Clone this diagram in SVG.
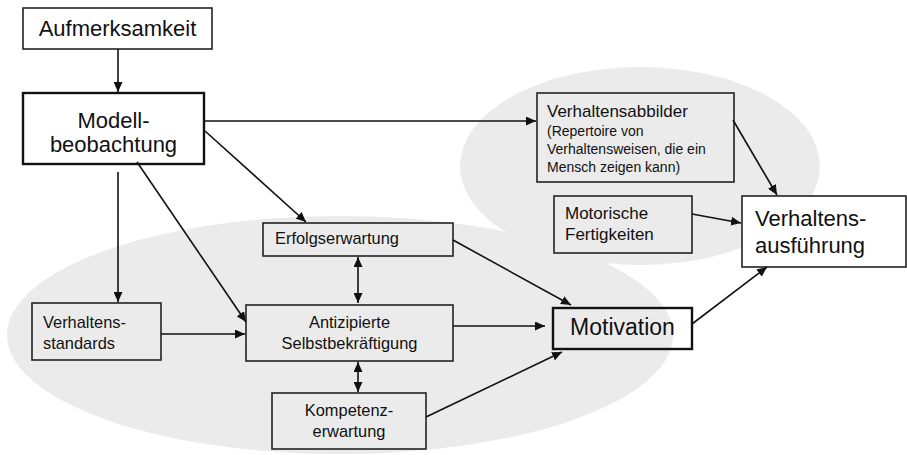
<svg xmlns="http://www.w3.org/2000/svg" width="907" height="455" viewBox="0 0 907 455">
<style>
text{font-family:"Liberation Sans",Arial,sans-serif;fill:#111}
.big{font-size:22px}
.med{font-size:17px}
.sm{font-size:16.4px}
.xs{font-size:14px}
.box{fill:none;stroke:#222;stroke-width:1.6}
.boxw{fill:#fff;stroke:#222;stroke-width:1.6}
.thick{fill:#fff;stroke:#111;stroke-width:2.4}
.thickn{fill:none;stroke:#111;stroke-width:2.4}
.bg{fill:#ebebeb}
#connectors path{fill:none;stroke:#111;stroke-width:1.6;marker-end:url(#ah)}
#connectors path.dbl{marker-start:url(#ahs)}
.mid{text-anchor:middle}
</style>
<defs>
<marker id="ah" markerUnits="userSpaceOnUse" markerWidth="11" markerHeight="9" refX="10" refY="4.5" orient="auto"><path d="M0,0 L10,4.5 L0,9 z" fill="#111"/></marker>
<marker id="ahs" markerUnits="userSpaceOnUse" markerWidth="11" markerHeight="9" refX="10" refY="4.5" orient="auto-start-reverse"><path d="M0,0 L10,4.5 L0,9 z" fill="#111"/></marker>
</defs>
<rect width="907" height="455" fill="#fff"/>
<g id="backgrounds">
<ellipse class="bg" cx="640" cy="166" rx="180" ry="99"/>
<ellipse class="bg" cx="340" cy="335" rx="333" ry="119"/>
</g>
<g id="aufmerksamkeit"><rect class="boxw" x="23" y="8" width="189" height="41"/><text class="big mid" x="117.5" y="36">Aufmerksamkeit</text></g>
<g id="modellbeobachtung"><rect class="thick" x="23" y="93" width="181" height="71"/><text class="big mid" x="113.5" y="128">Modell-</text><text class="big mid" x="113.5" y="152">beobachtung</text></g>
<g id="verhaltensabbilder"><rect class="box" x="537" y="93" width="197" height="89"/><text class="med" x="547" y="117">Verhaltensabbilder</text><text class="xs" x="547" y="136">(Repertoire von</text><text class="xs" x="547" y="154">Verhaltensweisen, die ein</text><text class="xs" x="547" y="172">Mensch zeigen kann)</text></g>
<g id="motorische"><rect class="box" x="554" y="196" width="138" height="57"/><text class="med" x="565" y="219">Motorische</text><text class="med" x="565" y="240">Fertigkeiten</text></g>
<g id="verhaltensausfuehrung"><rect class="boxw" x="742" y="196" width="164" height="71"/><text class="big" x="755" y="226">Verhaltens-</text><text class="big" x="755" y="253">ausführung</text></g>
<g id="erfolgserwartung"><rect class="box" x="263" y="223" width="190" height="33"/><text class="sm" x="275" y="244">Erfolgserwartung</text></g>
<g id="verhaltensstandards"><rect class="box" x="32" y="303" width="129" height="57"/><text class="sm" x="43" y="328">Verhaltens-</text><text class="sm" x="43" y="349">standards</text></g>
<g id="antizipierte"><rect class="box" x="246" y="305" width="207" height="56"/><text class="sm mid" x="349.5" y="328">Antizipierte</text><text class="sm mid" x="349.5" y="349">Selbstbekräftigung</text></g>
<g id="kompetenzerwartung"><rect class="box" x="272" y="393" width="154" height="56"/><text class="sm mid" x="349" y="416">Kompetenz-</text><text class="sm mid" x="349" y="437">erwartung</text></g>
<g id="motivation"><rect class="thickn" x="553" y="308" width="139" height="41"/><text class="big mid" x="622.5" y="335" style="font-size:23px">Motivation</text></g>
<g id="connectors">
<path d="M118,49 L118,92"/>
<path d="M204,121 L536,121"/>
<path d="M205,131 L306,222"/>
<path d="M137,162 L246,322"/>
<path d="M118,172 L118,302"/>
<path d="M161,334 L245,334"/>
<path class="dbl" d="M358,257 L358,303"/>
<path class="dbl" d="M358,362 L358,392"/>
<path d="M453,240 L571,305"/>
<path d="M453,326 L545,326"/>
<path d="M426,417 L562,352"/>
<path d="M692,324 L767,267"/>
<path d="M733,120 L777,195"/>
<path d="M692,214 L741,223"/>
</g>
</svg>
